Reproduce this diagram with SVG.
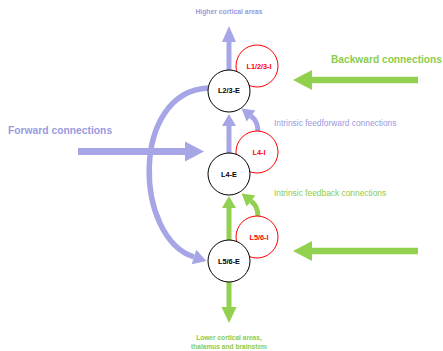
<svg xmlns="http://www.w3.org/2000/svg" width="443" height="351" viewBox="0 0 443 351">
<style>
  text { font-family: "Liberation Sans", Arial, sans-serif; }
  .b { stroke: #a6a6e6; fill: none; }
  .g { stroke: #92d050; fill: none; }
  .exc { fill: #ffffff; stroke: #000000; stroke-width: 1; }
  .inh { fill: #ffffff; stroke: #ff0000; stroke-width: 1; }
  .nl { font-size: 7.3px; font-weight: bold; text-anchor: middle; fill: #000000; }
  .il { font-size: 7.3px; font-weight: bold; text-anchor: middle; fill: #ff0000; }
  .bt { fill: #9a9ae0; }
  .gt { fill: #8ccc4c; }
</style>
<defs>
  <marker id="bBig" markerUnits="userSpaceOnUse" markerWidth="19" markerHeight="20" refX="0" refY="10" orient="auto" overflow="visible">
    <path d="M0,0 L19,10 L0,20 z" fill="#a6a6e6"/>
  </marker>
  <marker id="gBig" markerUnits="userSpaceOnUse" markerWidth="19" markerHeight="20" refX="0" refY="10" orient="auto" overflow="visible">
    <path d="M0,0 L19,10 L0,20 z" fill="#92d050"/>
  </marker>
  <marker id="bMid" markerUnits="userSpaceOnUse" markerWidth="16" markerHeight="14" refX="0" refY="7" orient="auto" overflow="visible">
    <path d="M0,0 L16,7 L0,14 z" fill="#a6a6e6"/>
  </marker>
  <marker id="gMid" markerUnits="userSpaceOnUse" markerWidth="16" markerHeight="15" refX="0" refY="7.5" orient="auto" overflow="visible">
    <path d="M0,0 L16,7.5 L0,15 z" fill="#92d050"/>
  </marker>
  <marker id="bSm" markerUnits="userSpaceOnUse" markerWidth="12" markerHeight="14" refX="0" refY="7" orient="auto" overflow="visible">
    <path d="M0,0 L12,7 L0,14 z" fill="#a6a6e6"/>
  </marker>
  <marker id="gSm" markerUnits="userSpaceOnUse" markerWidth="12" markerHeight="14" refX="0" refY="7" orient="auto" overflow="visible">
    <path d="M0,0 L12,7 L0,14 z" fill="#92d050"/>
  </marker>
  <marker id="bArc" markerUnits="userSpaceOnUse" markerWidth="13" markerHeight="15" refX="0" refY="7.5" orient="auto" overflow="visible">
    <path d="M0,0 L13,7.5 L0,15 z" fill="#a6a6e6"/>
  </marker>
</defs>

<g id="connectors">
  <!-- forward (blue) -->
  <line class="b" x1="78" y1="151.5" x2="185" y2="151.5" stroke-width="7" marker-end="url(#bBig)"/>
  <line class="b" x1="229" y1="70" x2="229" y2="42" stroke-width="5" marker-end="url(#bMid)"/>
  <line class="b" x1="229" y1="153" x2="229" y2="126" stroke-width="5" marker-end="url(#bSm)"/>
  <path class="b" d="M258 132 C258 124 256 120 251 116" stroke-width="5" marker-end="url(#bSm)"/>
  <path class="b" d="M208 88 C130 92 134 238 194 257" stroke-width="5.5" marker-end="url(#bArc)"/>
  <!-- backward (green) -->
  <line class="g" x1="418" y1="80" x2="312" y2="80" stroke-width="6.5" marker-end="url(#gBig)"/>
  <line class="g" x1="418" y1="251" x2="312" y2="251" stroke-width="6.5" marker-end="url(#gBig)"/>
  <line class="g" x1="229" y1="240" x2="229" y2="208" stroke-width="5" marker-end="url(#gSm)"/>
  <path class="g" d="M258 217 C258 209 256 205 251 201" stroke-width="5" marker-end="url(#gSm)"/>
  <line class="g" x1="229" y1="282" x2="229" y2="307" stroke-width="5" marker-end="url(#gMid)"/>
</g>

<g id="L123I">
  <circle class="inh" cx="257" cy="66" r="21"/>
  <text class="il" x="259" y="68.5">L1/2/3-I</text>
</g>
<g id="L4I">
  <circle class="inh" cx="257" cy="152" r="21"/>
  <text class="il" x="259" y="154.5">L4-I</text>
</g>
<g id="L56I">
  <circle class="inh" cx="257" cy="237" r="21"/>
  <text class="il" x="259" y="239.5">L5/6-I</text>
</g>
<g id="L23E">
  <circle class="exc" cx="229" cy="91" r="21"/>
  <text class="nl" x="229" y="93">L2/3-E</text>
</g>
<g id="L4E">
  <circle class="exc" cx="229" cy="174" r="21"/>
  <text class="nl" x="229" y="176.5">L4-E</text>
</g>
<g id="L56E">
  <circle class="exc" cx="229" cy="261" r="21"/>
  <text class="nl" x="229" y="263.5">L5/6-E</text>
</g>

<g id="labels">
  <text class="bt" x="229" y="13.5" font-size="6.8" font-weight="bold" text-anchor="middle">Higher cortical areas</text>
  <text class="bt" x="8" y="134" font-size="10.3" font-weight="bold">Forward connections</text>
  <text class="gt" x="331" y="62.5" font-size="10.2" font-weight="bold">Backward connections</text>
  <text class="bt" x="274" y="125.5" font-size="8.4">Intrinsic feedforward connections</text>
  <text class="gt" x="274" y="196" font-size="8.4">Intrinsic feedback connections</text>
  <text class="gt" x="229" y="339.5" font-size="6.6" font-weight="bold" text-anchor="middle">Lower cortical areas,</text>
  <text class="gt" x="229" y="348.5" font-size="6.6" font-weight="bold" text-anchor="middle">thalamus and brainstem</text>
</g>
</svg>
